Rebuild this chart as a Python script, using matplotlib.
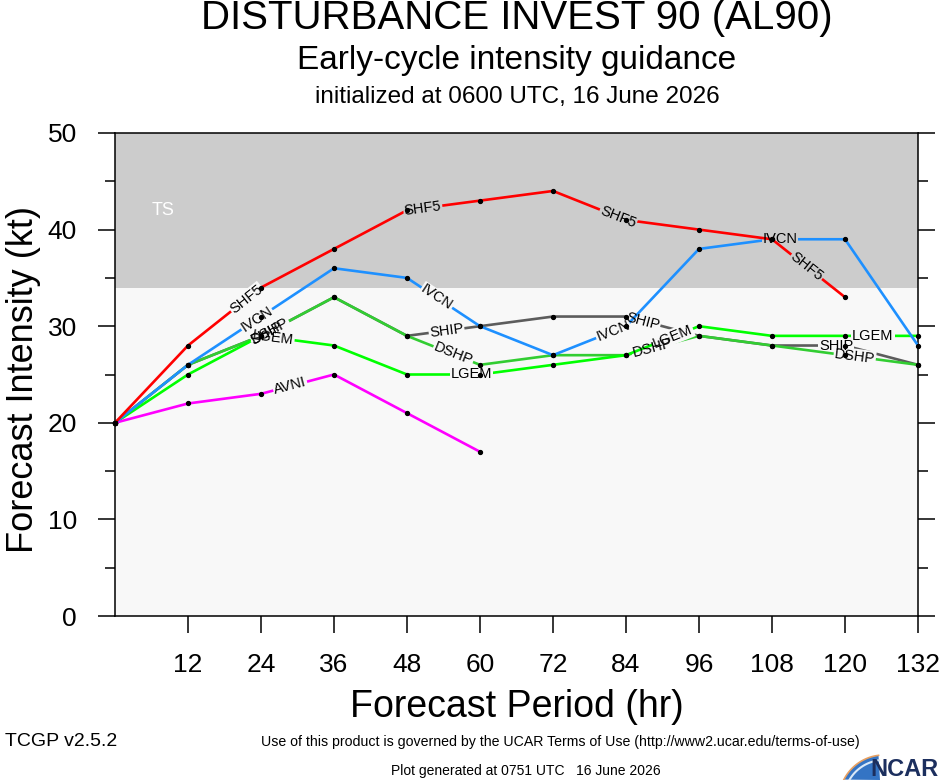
import numpy as np
import matplotlib
matplotlib.use("Agg")
import matplotlib.pyplot as plt
from matplotlib.patches import Polygon

plt.rcParams['font.family'] = ['Liberation Sans', 'DejaVu Sans']

# forecast hours and model intensities (kt)
hours = [0, 12, 24, 36, 48, 60, 72, 84, 96, 108, 120, 132]
ship = [20, 26, 29, 33, 29, 30, 31, 31, 29, 28, 28, 26]
dshp = [20, 26, 29, 33, 29, 26, 27, 27, 29, 28, 27, 26]
lgem = [20, 25, 29, 28, 25, 25, 26, 27, 30, 29, 29, 29]
avni = [20, 22, 23, 25, 21, 17]
ivcn = [20, 26, 31, 36, 35, 30, 27, 30, 38, 39, 39, 28]
shf5 = [20, 28, 34, 38, 42, 43, 44, 41, 40, 39, 33]

models = ["SHIP", "DSHP", "LGEM", "AVNI", "IVCN", "SHF5"]
series = [ship, dshp, lgem, avni, ivcn, shf5]
colors = ["#5c5c5c", "#32cd32", "#00ff00", "#ff00ff", "#1e90ff", "#ff0000"]
# hours at which each line carries its name
label_hours = [[24.9, 54.5, 86.8, 118.6],
               [25.5, 55.6, 88.3, 121.6],
               [26.0, 58.6, 91.7, 124.6],
               [28.8],
               [23.3, 52.9, 81.9, 109.3],
               [21.6, 50.6, 82.7, 113.7]]

ts_threshold = 34
band_color = "#cccccc"
below_color = "#f8f8f8"

W, H = 940, 780
fig = plt.figure(figsize=(9.4, 7.8), dpi=100)
ax = fig.add_axes([115 / W, 1 - 616 / H, (918 - 115) / W, (616 - 133) / H])
ax.set_xlim(0, 132)
ax.set_ylim(0, 50)
ax.axhspan(0, ts_threshold, color=below_color, zorder=0, lw=0)
ax.axhspan(ts_threshold, 50, color=band_color, zorder=0, lw=0)
ax.text(7.9, 42, "TS", color="white", fontsize=13, ha="center", va="center")

for i, (name, vals, col) in enumerate(zip(models, series, colors)):
    h = np.array(hours[:len(vals)], dtype=float)
    v = np.array(vals, dtype=float)
    z = 2 + i
    ax.plot(h, v, color=col, lw=1.9, zorder=z, solid_capstyle="butt")
    for lh in label_hours[i]:
        k = min(max(np.searchsorted(h, lh) - 1, 0), len(h) - 2)
        ang = np.degrees(np.arctan2(v[k + 1] - v[k], h[k + 1] - h[k]))
        ly = np.interp(lh, h, v)
        bg = band_color if ly > ts_threshold + 0.5 else below_color
        kw = dict(fontsize=10.5, ha="center", va="center", rotation=ang,
                  transform_rotates_text=True, rotation_mode="anchor")
        # gap in the own line behind the label
        ax.text(lh, ly, name, color=bg, zorder=z + 0.5,
                bbox=dict(facecolor=bg, edgecolor="none", pad=0.6), **kw)
        ax.text(lh, ly, name, color="black", zorder=15, **kw)

for vals in series:
    ax.plot(hours[:len(vals)], vals, ls="none", marker="o", ms=2.8,
            color="black", zorder=20, clip_on=False)

ax.set_xticks(hours[1:])
ax.set_yticks([0, 10, 20, 30, 40, 50])
ax.set_yticks([5, 15, 25, 35, 45], minor=True)
ax.tick_params(axis="x", direction="out", length=12, width=1.1, pad=15, labelsize=19)
ax.tick_params(axis="y", which="major", direction="out", length=12.5, width=1.1,
               pad=15, labelsize=19, right=True)
ax.tick_params(axis="y", which="minor", direction="out", length=7, width=1.1, right=True)
for sp in ax.spines.values():
    sp.set_linewidth(1.1)

ax.set_xlabel("Forecast Period (hr)", fontsize=27, labelpad=8)
ax.set_ylabel("Forecast Intensity (kt)", fontsize=26)
ax.yaxis.set_label_coords((41 - 115) / (918 - 115), 0.49)

cx = 517 / W
fig.text(cx, 1 - 18 / H, "DISTURBANCE INVEST 90 (AL90)", fontsize=29, ha="center", va="center")
fig.text(cx, 1 - 61 / H, "Early-cycle intensity guidance", fontsize=24, ha="center", va="center")
fig.text(cx, 1 - 97 / H, "initialized at 0600 UTC, 16 June 2026", fontsize=17.5, ha="center", va="center")

fig.text(560 / W, 1 - 742 / H,
         "Use of this product is governed by the UCAR Terms of Use (http://www2.ucar.edu/terms-of-use)",
         fontsize=10.2, ha="center", va="center")
fig.text(5 / W, 1 - 742 / H, "TCGP v2.5.2", fontsize=14, ha="left", va="center")
fig.text(526 / W, 1 - 771 / H, "Plot generated at 0751 UTC   16 June 2026",
         fontsize=10, ha="center", va="center")

# NCAR logo: blue swoosh under an arc, then the wordmark
t = np.radians(np.linspace(153, 97, 30))
arc = np.c_[884 + 45 * np.cos(t), 800 - 45 * np.sin(t)]
swoosh = np.r_[arc, [[880, 780]]]
fig.patches.append(Polygon(np.c_[swoosh[:, 0] / W, 1 - swoosh[:, 1] / H], closed=True,
                           transform=fig.transFigure, facecolor="#3474c4", edgecolor="none"))
fig.lines.append(plt.Line2D(arc[:, 0] / W, 1 - arc[:, 1] / H, transform=fig.transFigure,
                            color="#e8a060", lw=1.2))
inner = np.c_[884 + 40 * np.cos(t), 800 - 40 * np.sin(t)]
fig.lines.append(plt.Line2D(inner[:, 0] / W, 1 - inner[:, 1] / H, transform=fig.transFigure,
                            color="#d8e8f8", lw=1.5))
fig.text(938 / W, 1 - 769 / H, "NCAR", fontsize=17, fontweight="bold",
         color="#1c2f5e", ha="right", va="center")

fig.savefig("out.png", dpi=100)
